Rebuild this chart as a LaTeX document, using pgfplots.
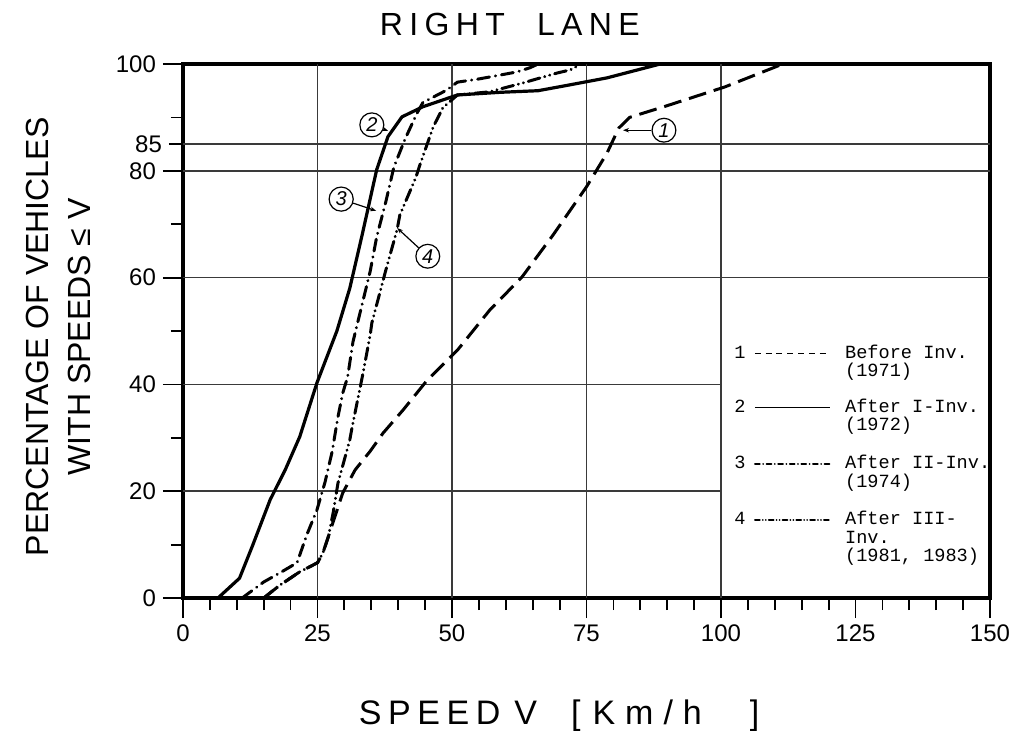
\documentclass[border=0pt]{standalone}
\usepackage{fontspec}
\setmainfont{Liberation Sans}
\newfontfamily\legfont{Liberation Mono}
\usepackage{pgfplots}
\pgfplotsset{compat=1.18}
\usetikzlibrary{arrows.meta}
\definecolor{gridc}{HTML}{3A3A3A}
\newcommand{\LblT}{R\kern3.2pt I\kern3.2pt G\kern3.2pt H\kern3.2pt T\kern16pt L\kern3.2pt A\kern3.2pt N\kern3.2pt E}
\newcommand{\LblX}{S\kern3.3pt P\kern3.3pt E\kern3.3pt E\kern3.3pt D\kern7pt V\kern17pt [\kern6pt K\kern5pt m\kern5pt /\kern5pt h\kern24pt ]}
\tikzset{circnum/.style={circle, draw, line width=0.6pt, inner sep=1.1pt, minimum size=10.5pt, font=\fontsize{10}{10}\selectfont\itshape}}

\begin{document}
\begin{tikzpicture}
\useasboundingbox (-91.5pt,-66pt) rectangle (414.5pt,299pt);
\begin{axis}[
  scale only axis, width=403.5pt, height=267pt,
  xmin=0, xmax=150, ymin=0, ymax=100, clip=false,
  axis line style={line width=1.6pt},
  xtick={0,25,...,150}, minor xtick={5,10,...,145},
  ytick={0,20,40,60,80,100}, minor ytick={10,30,50,70,90},
  extra y ticks={85}, extra y tick style={major tick length=7pt},
  xtick pos=left, ytick pos=left,
  tick align=outside, major tick length=10pt, minor tick length=6pt,
  tick style={line width=0.9pt, black},
  /pgf/number format/assume math mode=true,
  tick label style={font=\fontsize{12}{14}\selectfont},
  title={\LblT},
  title style={at={(axis description cs:0.405,1)}, anchor=base, yshift=8.5pt, font=\fontsize{16}{18}\selectfont},
  xlabel={\LblX},
  xlabel style={at={(axis description cs:0.466,0)}, anchor=base, yshift=-63pt, font=\fontsize{17}{19}\selectfont},
  ylabel={PERCENTAGE OF VEHICLES\\WITH SPEEDS ≤ V},
  ylabel style={at={(axis description cs:-0.1537,0.489)}, anchor=center, align=center, font=\fontsize{16}{21}\selectfont},
]
% grid
\draw[gridc, line width=0.8pt] (axis cs:25,0) -- (axis cs:25,100) (axis cs:50,0) -- (axis cs:50,100)
  (axis cs:75,0) -- (axis cs:75,100) (axis cs:100,0) -- (axis cs:100,100);
\draw[gridc, line width=0.8pt] (axis cs:0,60) -- (axis cs:150,60) (axis cs:0,80) -- (axis cs:150,80)
  (axis cs:0,85) -- (axis cs:150,85) (axis cs:0,20) -- (axis cs:100,20) (axis cs:0,40) -- (axis cs:100,40);

% 1 before inv. (1971)
\addplot[line width=1.5pt, dash pattern=on 9pt off 4pt] coordinates {
(15,0) (18,2.4) (21.7,4.9) (25,6.6) (26,8.4) (27.5,13) (29.7,19.7) (32,24) (34.8,27.5) (37.2,30.9)
(40.9,35.2) (45.4,40.8) (51,46.4) (57,53.9) (63,60.1) (68.8,68) (75,77) (78.8,83.3) (81,88)
(83,90) (90,92.2) (100.7,95.7) (111.5,100)};
% 2 after I-inv. (1972)
\addplot[line width=1.6pt] coordinates {
(6.5,0) (10.5,3.7) (13,10) (16.2,18.4) (19,24) (21.7,30.2) (24.9,40.3) (28.6,50) (31,58) (33.3,68)
(36,80.2) (38.1,86.4) (40.7,90.1) (44.6,92) (51,94.2) (59,94.7) (66,95) (71.4,96) (78.8,97.4) (88.7,100)};
% 3 after II-inv. (1974)
\addplot[line width=1.5pt, line cap=round, dash pattern=on 6pt off 3pt on 0.1pt off 3pt] coordinates {
(11,0) (15,3) (18,4.7) (21.2,6.6) (23,11.8) (24.9,16.5) (26.4,21.7) (27.7,27.3) (28.8,33.9) (29.7,38.4)
(30.6,41.4) (31.6,48) (33.1,54.2) (34.8,61.2) (36,67.6) (37.7,74.2) (39.2,80.7) (41.3,86) (43.5,90.8)
(44.6,92.8) (49,95.1) (51,96.6) (55,97.2) (62,98.5) (64.5,99.3) (66,100)};
% 4 after III-inv. (1981, 1983)
\addplot[line width=1.5pt, line cap=round, dash pattern=on 6pt off 2.5pt on 0.1pt off 2.5pt on 0.1pt off 2.5pt] coordinates {
(15,0) (18,2.4) (21.7,4.9) (25,6.6) (26,8.4) (27,11.4) (27.9,15.9) (28.8,21.5) (31,29.6) (31.4,31.8)
(32.9,39.3) (33.5,42.3) (34.8,49.3) (35.1,51.5) (37.7,61.4) (39.8,69) (40.3,71.7) (43.3,78.8) (44,81)
(46.5,88.2) (48.3,91.8) (51,94.2) (57,94.8) (63,96.4) (69.5,98.3) (72,98.9) (74,100)};

% curve markers
\node[circnum] (c1) at (axis cs:89.4,87.6) {1};
\draw[line width=0.6pt, -{Stealth[length=3pt]}] (c1) -- (axis cs:81.8,87.6);
\node[circnum] (c2) at (axis cs:35.1,88.6) {2};
\draw[line width=0.6pt, -{Stealth[length=3pt]}] (c2) -- (axis cs:38.1,87.5);
\node[circnum] (c3) at (axis cs:29.4,74.7) {3};
\draw[line width=0.6pt, -{Stealth[length=3pt]}] (c3) -- (axis cs:35.9,72.5);
\node[circnum] (c4) at (axis cs:45.5,64) {4};
\draw[line width=0.6pt, -{Stealth[length=3pt]}] (c4) -- (axis cs:39.8,69.3);

% key
\tikzset{legtxt/.style={anchor=base west, inner sep=0pt, font=\legfont\fontsize{9.3}{9.25}\selectfont}}
\node[legtxt] at (axis cs:102.4,44.9) {1};
\node[legtxt] at (axis cs:102.4,34.8) {2};
\node[legtxt] at (axis cs:102.4,24.2) {3};
\node[legtxt] at (axis cs:102.4,13.7) {4};
\draw[line width=0.8pt, dash pattern=on 3pt off 2.4pt] (axis cs:106.3,45.8) -- (axis cs:120.3,45.8);
\draw[line width=0.8pt] (axis cs:106.3,35.7) -- (axis cs:120.3,35.7);
\draw[line width=0.8pt, line cap=round, dash pattern=on 2.5pt off 1.6pt on 0.1pt off 1.6pt] (axis cs:106.3,25.1) -- (axis cs:120.3,25.1);
\draw[line width=0.8pt, line cap=round, dash pattern=on 2.5pt off 1.4pt on 0.1pt off 1.4pt on 0.1pt off 1.4pt] (axis cs:106.3,14.6) -- (axis cs:120.3,14.6);
\node[legtxt] at (axis cs:123,44.9) {Before Inv.};
\node[legtxt] at (axis cs:123,41.44) {(1971)};
\node[legtxt] at (axis cs:123,34.8) {After I-Inv.};
\node[legtxt] at (axis cs:123,31.34) {(1972)};
\node[legtxt] at (axis cs:123,24.2) {After II-Inv.};
\node[legtxt] at (axis cs:123,20.74) {(1974)};
\node[legtxt] at (axis cs:123,13.7) {After III-};
\node[legtxt] at (axis cs:123,10.24) {Inv.};
\node[legtxt] at (axis cs:123,6.78) {(1981, 1983)};
\end{axis}
\end{tikzpicture}
\end{document}
